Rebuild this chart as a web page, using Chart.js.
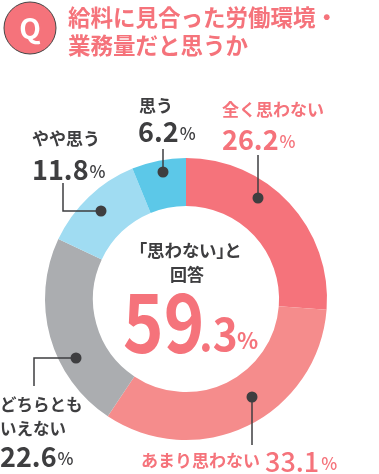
<!DOCTYPE html>
<html>
<head>
<meta charset="utf-8">
<style>
html, body { margin: 0; padding: 0; background: #fff; }
#wrap { position: relative; width: 379px; height: 474px; }
#answer {
    position: absolute; left: 137px; top: 238px; width: 104px;
    font: 700 17.5px/24px "Noto Sans CJK JP", sans-serif;
    color: #3e3e40; white-space: nowrap; text-align: center;
    font-feature-settings: "palt";
}
</style>
<script src="https://cdn.jsdelivr.net/npm/chart.js@4"></script>
</head>
<body>
<div id="wrap">
    <canvas id="donut" width="379" height="474"></canvas>
    <div id="answer">「思わない」と</div>
</div>
<script>
const categories = ['全く思わない', 'あまり思わない', 'どちらともいえない', 'やや思う', '思う'];
const shares = [26.2, 33.1, 22.6, 11.8, 6.2];
const sliceColors = ['#f5737b', '#f58c8c', '#abadb0', '#a0dcf2', '#5cc8e8'];
const titleLines = ['給料に見合った労働環境・', '業務量だと思うか'];

const PINK = '#f5737b';
const DARK = '#3e3e40';
const FONT = '"Noto Sans CJK JP", "Noto Sans", sans-serif';

function put(ctx, str, x, y, size, color, weight, align) {
    ctx.font = (weight || 700) + ' ' + size + 'px ' + FONT;
    ctx.fillStyle = color;
    ctx.textAlign = align || 'left';
    ctx.textBaseline = 'middle';
    ctx.fillText(str, x, y);
}

// text squeezed sideways, the big centre figures are condensed in the original
function putNarrow(ctx, str, x, y, size, color, squeeze) {
    ctx.save();
    ctx.translate(x, y);
    ctx.scale(squeeze, 1);
    put(ctx, str, 0, 0, size, color, 700);
    ctx.restore();
}

// number + smaller percent sign
function pct(ctx, value, x, y, size, color, gap, weight) {
    const str = value.toFixed(1);
    put(ctx, str, x, y, size, color, weight || 700);
    const w = ctx.measureText(str).width;
    put(ctx, '%', x + w + (gap || 1), y + 2, 17, color, 500);
}

function leader(ctx, pts) {
    ctx.strokeStyle = DARK;
    ctx.lineWidth = 1.5;
    ctx.beginPath();
    pts.forEach((p, i) => i ? ctx.lineTo(p[0], p[1]) : ctx.moveTo(p[0], p[1]));
    ctx.stroke();
    const d = pts[pts.length - 1];
    ctx.fillStyle = DARK;
    ctx.beginPath();
    ctx.arc(d[0], d[1], 5.5, 0, Math.PI * 2);
    ctx.fill();
}

const annotations = {
    id: 'annotations',
    afterDraw(chart) {
        const ctx = chart.ctx;
        ctx.save();

        // Q badge
        ctx.beginPath();
        ctx.arc(30, 28, 26, 0, Math.PI * 2);
        ctx.fillStyle = PINK;
        ctx.fill();
        ctx.strokeStyle = '#444';
        ctx.lineWidth = 1;
        ctx.stroke();
        put(ctx, 'Q', 30, 28, 28, '#fff', 700, 'center');

        put(ctx, titleLines[0], 68, 17, 22.5, PINK, 700);
        put(ctx, titleLines[1], 68, 45, 22.5, PINK, 700);

        leader(ctx, [[163, 149], [163, 172]]);
        leader(ctx, [[258, 155], [258, 198]]);
        leader(ctx, [[63, 183], [63, 211], [101, 211]]);
        leader(ctx, [[34, 386], [34, 358], [76, 358]]);
        leader(ctx, [[252, 445], [252, 397]]);

        put(ctx, categories[4], 139, 106, 17, DARK, 700);
        pct(ctx, shares[4], 138, 132, 27, DARK);

        put(ctx, categories[0], 222, 110, 17, PINK, 700);
        pct(ctx, shares[0], 222, 140, 27, PINK);

        put(ctx, categories[3], 32, 139, 17, DARK, 700);
        pct(ctx, shares[3], 32, 170, 27, DARK);

        put(ctx, 'どちらとも', 0, 405, 16.5, DARK, 700);
        put(ctx, 'いえない', 0, 429, 16.5, DARK, 700);
        pct(ctx, shares[2], 0, 457, 27, DARK);

        put(ctx, categories[1], 141, 461, 17, PINK, 700);
        pct(ctx, shares[1], 265, 462, 27, PINK, 2, 500);

        // centre text
        put(ctx, '回答', 187, 275, 17, DARK, 700, 'center');
        const total = shares[0] + shares[1];
        const parts = total.toFixed(1).split('.');
        putNarrow(ctx, parts[0], 123, 322, 82, PINK, 0.84);
        putNarrow(ctx, '.' + parts[1], 199, 334, 46, PINK, 0.92);
        put(ctx, '%', 237, 341, 22, PINK, 700);

        ctx.restore();
    }
};

new Chart(document.querySelector('#donut').getContext('2d'), {
    type: 'doughnut',
    data: {
        labels: categories,
        datasets: [{
            data: shares,
            backgroundColor: sliceColors,
            borderWidth: 0
        }]
    },
    options: {
        responsive: false,
        animation: false,
        cutout: '66%',
        layout: { padding: { left: 45, right: 52, top: 158, bottom: 34 } },
        plugins: { legend: { display: false }, tooltip: { enabled: false } }
    },
    plugins: [annotations]
});
</script>
</body>
</html>
